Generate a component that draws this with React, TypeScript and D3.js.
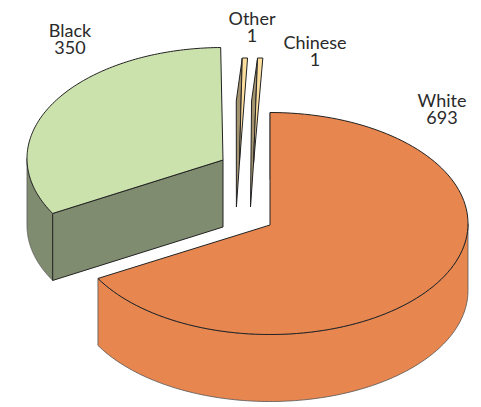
import React from "react";
import * as d3 from "d3";

const categories = ["White", "Black", "Other", "Chinese"];
const counts = [693, 350, 1, 1];

const fills = ["#e8864f", "#cbe2ad", "#fcdf9f", "#fcdf9f"];
const sideFills = ["#e8864f", "#808c6f", "#a3946f", "#a3946f"];

const DEPTH = 67;

// Exploded slices: apex on the top face, rim ellipse centre and radii.
const slices = [
  { apexX: 270, apexY: 225, x: 270, y: 223.5, rx: 198, ry: 111 },
  { apexX: 223, apexY: 160, x: 223, y: 158.5, rx: 196, ry: 111 },
];

// The two tiny slices are widened so they stay readable, and drawn on a lean.
const sliverCentres = [
  { x: 246.7, y: 169 },
  { x: 260.8, y: 169 },
];
const SLIVER_RX = 198;
const SLIVER_RY = 111;
const SLIVER_HALF_ANGLE = 0.0134;
const SLIVER_LEAN = { x: -7.3, y: -5 };
const SLIVER_DEPTH = 43;
const SLIVER_SHEAR = -6;
const SLIVER_TIP_SHEAR = -3;

const labelSpots = [
  { x: 442, y: 107 },
  { x: 70, y: 37 },
  { x: 252, y: 25 },
  { x: 315, y: 49 },
];

const pie = d3.pie<number>().sort(null).startAngle(0).endAngle(2 * Math.PI);
const arcs = pie(counts);

// Viewing tilt pushes the seam between slices slightly round the ellipse.
const view = (a: number) => a + 0.032 * Math.sin(a / 2);

type Rim = { x: number; y: number; rx: number; ry: number };
const px = (c: Rim, a: number) => c.x + c.rx * Math.sin(a);
const py = (c: Rim, a: number) => c.y - c.ry * Math.cos(a);

// Samples the elliptical rim between two angles as a list of points.
function rim(c: Rim, a0: number, a1: number, dy = 0): [number, number][] {
  return d3.range(0, 121).map((i) => {
    const a = a0 + ((a1 - a0) * i) / 120;
    return [px(c, a), py(c, a) + dy] as [number, number];
  });
}

const line = d3.line();
const edge = { stroke: "#222", strokeWidth: 1, strokeLinejoin: "round" as const };
const wallEdge = { stroke: "#555", strokeWidth: 0.8, strokeLinejoin: "round" as const };

function Slice({ i }: { i: number }) {
  const c = slices[i];
  const s = view(arcs[i].startAngle);
  const e = view(arcs[i].endAngle);
  const frontFrom = Math.max(s, Math.PI / 2);
  const frontTo = Math.min(e, (3 * Math.PI) / 2);
  const top: [number, number][] = [[c.apexX, c.apexY], ...rim(c, s, e)];
  const wall: [number, number][] = [
    ...rim(c, frontFrom, frontTo),
    ...rim(c, frontTo, frontFrom, DEPTH),
  ];
  const corner: [number, number] = [px(c, s), py(c, s)];
  // The cut face that looks toward the viewer, only seen on the left-hand slice.
  const cut: [number, number][] | null =
    i === 1
      ? [
          [c.apexX, c.apexY],
          corner,
          [corner[0], corner[1] + DEPTH],
          [c.apexX, c.apexY + DEPTH],
        ]
      : null;
  return (
    <g>
      <path d={line(wall)! + "Z"} fill={sideFills[i]} {...wallEdge} />
      {cut && <path d={line(cut)! + "Z"} fill={sideFills[i]} {...edge} />}
      {i === 0 && (
        <path
          d={line([corner, [corner[0], corner[1] + DEPTH]])!}
          fill="none"
          {...wallEdge}
        />
      )}
      <path d={line(top)! + "Z"} fill={fills[i]} {...edge} />
    </g>
  );
}

function Sliver({ i }: { i: number }) {
  const c = { ...sliverCentres[i - 2], rx: SLIVER_RX, ry: SLIVER_RY };
  const mid = (arcs[i].startAngle + arcs[i].endAngle) / 2;
  const left: [number, number] = [px(c, mid - SLIVER_HALF_ANGLE), py(c, mid - SLIVER_HALF_ANGLE)];
  const right: [number, number] = [px(c, mid + SLIVER_HALF_ANGLE), py(c, mid + SLIVER_HALF_ANGLE)];
  const apex: [number, number] = [c.x + SLIVER_LEAN.x, c.y + SLIVER_LEAN.y];
  const side: [number, number][] = [
    apex,
    left,
    [left[0] + SLIVER_SHEAR, left[1] + SLIVER_DEPTH],
    [apex[0] + SLIVER_TIP_SHEAR, apex[1] + SLIVER_DEPTH],
  ];
  return (
    <g>
      <path d={line(side)! + "Z"} fill={sideFills[i]} {...edge} />
      <path d={line([left, right, apex])! + "Z"} fill={fills[i]} {...edge} />
    </g>
  );
}

export default function App() {
  return (
    <svg
      width={481}
      height={407}
      viewBox="0 0 481 407"
      style={{ position: "absolute", left: 0, top: 0, background: "#fff" }}
    >
      <Slice i={1} />
      <Sliver i={2} />
      <Sliver i={3} />
      <Slice i={0} />
      {categories.map((name, i) => (
        <g
          key={name}
          textAnchor="middle"
          fontFamily="Lato, 'Noto Sans', sans-serif"
          fontSize={18}
          fill="#2a2a2a"
        >
          <text x={labelSpots[i].x} y={labelSpots[i].y}>
            {name}
          </text>
          <text x={labelSpots[i].x} y={labelSpots[i].y + 17}>
            {counts[i]}
          </text>
        </g>
      ))}
    </svg>
  );
}
